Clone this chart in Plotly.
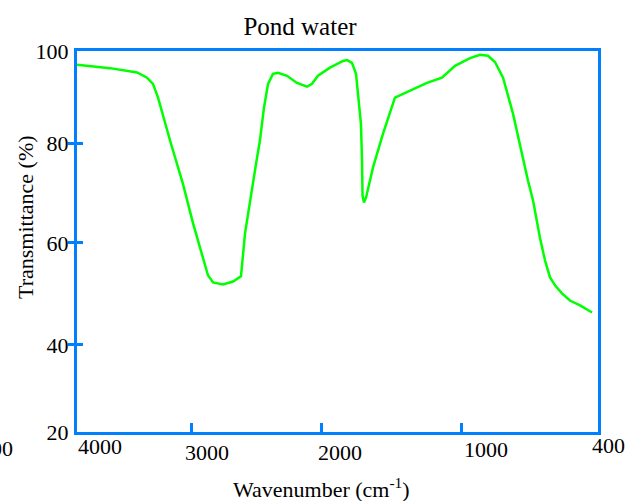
import plotly.graph_objects as go

# Spectrum (wavenumber cm-1, transmittance %)
wavenumber = [4000, 3772, 3585, 3516, 3475, 3440, 3357, 3337, 3268, 3198, 3136, 3095, 3060,
              2991, 2922, 2867, 2839, 2805, 2763, 2736, 2708, 2680, 2646, 2611, 2549, 2480,
              2411, 2376, 2335, 2252, 2162, 2134, 2100, 2072, 2051, 2038, 2031, 2027, 2017,
              2003, 1955, 1886, 1803, 1699, 1582, 1478, 1388, 1284, 1215, 1160, 1112, 1056,
              987, 884, 849, 801, 766, 732, 697, 649, 594, 524, 441]
transmittance = [97.1, 96.4, 95.5, 94.4, 93.1, 90.2, 81.2, 79.1, 72.1, 63.8, 57.5, 52.9, 51.4,
                 51.0, 51.6, 52.7, 61.7, 68.6, 76.3, 81.2, 88.1, 93.1, 95.2, 95.4, 94.8, 93.3,
                 92.5, 93.1, 94.8, 96.5, 97.9, 98.1, 97.5, 95.2, 89.5, 84.7, 77.6, 69.6, 68.2,
                 69.2, 75.5, 82.6, 90.2, 91.6, 93.3, 94.4, 96.9, 98.5, 99.2, 99.0, 97.7, 94.4,
                 86.8, 72.8, 68.6, 60.8, 56.0, 52.5, 50.8, 49.1, 47.6, 46.6, 45.1]

# Axis marks as they appear in the picture
x_tick_marks = [3212, 2314, 1340]
x_tick_labels = ["4000", "3000", "2000", "1000", "400"]
x_tick_label_px = [100, 207, 340, 486, 608]
x_tick_label_py = [446, 453, 452.5, 450, 445.5]
y_tick_vals = [20, 38.3, 59.7, 80.6, 100]
y_tick_text = ["20", "40", "60", "80", "100"]
y_tick_marks = [38.3, 59.7, 80.6]

BLUE = "rgb(0,128,255)"
FONT = "Liberation Serif"
W, H = 628, 501
L, R, T, B = 77, 30, 51, 69
PW = W - L - R
PH = H - T - B

def px(pix):
    return (pix - L) / PW

def py(pix):
    return (H - B - pix) / PH

fig = go.Figure()
fig.add_trace(go.Scatter(x=wavenumber, y=transmittance, mode="lines",
                         line=dict(color="rgb(0,255,0)", width=2.5),
                         hoverinfo="skip", showlegend=False))
# empty traces so the overlay tick axes are drawn
for ax in ["y2", "y3"]:
    fig.add_trace(go.Scatter(x=[None], y=[None], yaxis=ax, mode="lines",
                             hoverinfo="skip", showlegend=False))

annotations = []
for lab, xx, yy in zip(x_tick_labels, x_tick_label_px, x_tick_label_py):
    annotations.append(dict(text=lab, x=px(xx), xref="paper", y=py(yy), yref="paper",
                            xanchor="center", yanchor="middle", showarrow=False,
                            font=dict(family=FONT, size=22, color="black")))
# partially visible label at far left
annotations.append(dict(text="400", x=px(15), xref="paper", y=py(448.5),
                        yref="paper", xanchor="right", yanchor="middle", showarrow=False,
                        font=dict(family=FONT, size=22, color="black")))
annotations.append(dict(text="Wavenumber (cm<sup>-1</sup>)", x=px(321),
                        xref="paper", y=py(488), yref="paper", xanchor="center",
                        yanchor="middle", showarrow=False,
                        font=dict(family=FONT, size=22, color="black")))
annotations.append(dict(text="Transmittance (%)", x=px(25), xref="paper",
                        y=py(217), yref="paper", xanchor="center", yanchor="middle",
                        textangle=-90, showarrow=False,
                        font=dict(family=FONT, size=22, color="black")))

fig.update_layout(
    width=W, height=H,
    margin=dict(l=L, r=R, t=T, b=B, pad=0),
    paper_bgcolor="white", plot_bgcolor="white",
    title=dict(text="Pond water", x=300 / W, xanchor="center", y=1 - 26 / H,
               yanchor="middle", font=dict(family=FONT, size=25, color="black")),
    xaxis=dict(range=[4000, 400], showline=True, linecolor=BLUE, linewidth=3, mirror=True,
               ticks="inside", ticklen=9, tickwidth=3, tickcolor=BLUE,
               tickvals=x_tick_marks, showticklabels=False, showgrid=False, zeroline=False),
    yaxis=dict(range=[20, 100], showline=True, linecolor=BLUE, linewidth=3, mirror=True,
               ticks="", tickvals=y_tick_vals, ticktext=y_tick_text,
               tickfont=dict(family=FONT, size=22, color="black"), ticklabelstandoff=1,
               showgrid=False, zeroline=False),
    yaxis2=dict(range=[20, 100], overlaying="y", anchor="x", side="left", showline=False,
                ticks="outside", ticklen=8, tickwidth=3, tickcolor=BLUE,
                tickvals=y_tick_marks, showticklabels=False, showgrid=False, zeroline=False),
    yaxis3=dict(range=[20, 100], overlaying="y", anchor="x", side="left", showline=False,
                ticks="inside", ticklen=6, tickwidth=3, tickcolor=BLUE,
                tickvals=y_tick_marks, showticklabels=False, showgrid=False, zeroline=False),
    annotations=annotations,
)

fig.write_html("out.html")
